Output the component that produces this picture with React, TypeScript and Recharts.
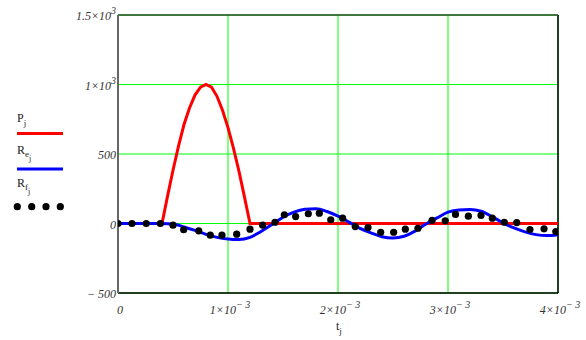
import React from 'react';
import {
  CartesianGrid,
  ComposedChart,
  Legend,
  Line,
  ReferenceLine,
  Scatter,
  XAxis,
  YAxis,
} from 'recharts';

// P_j : force pulse (time in s)
const pTimes = [0, 0.0004, 0.00045, 0.0005, 0.00055, 0.0006, 0.00065, 0.0007, 0.00075, 0.0008, 0.00085, 0.0009, 0.00095, 0.001, 0.00105, 0.0011, 0.00115, 0.0012, 0.004];
const pValues = [0, 0, 195, 383, 556, 712, 831, 924, 981, 1000, 981, 915, 815, 690, 540, 375, 190, 0, 0];

// Re_j : response, solid blue
const reTimes = [0, 0.0001, 0.0002, 0.0003, 0.0004, 0.0005, 0.0006, 0.0007, 0.0008, 0.0009, 0.001, 0.0011, 0.0012, 0.0013, 0.0014, 0.0015, 0.0016, 0.0017, 0.0018, 0.0019, 0.002, 0.0021, 0.0022, 0.0023, 0.0024, 0.0025, 0.0026, 0.0027, 0.0028, 0.0029, 0.003, 0.0031, 0.0032, 0.0033, 0.0034, 0.0035, 0.0036, 0.0037, 0.0038, 0.0039, 0.004];
const reValues = [0, 0, 0, 0, 0, -3, -25, -50, -78, -100, -112, -116, -100, -57, -8, 45, 82, 102, 106, 86, 53, 10, -35, -67, -95, -104, -92, -55, -3, 40, 82, 98, 100, 88, 50, 5, -32, -60, -80, -87, -80];

// Rf_j : response, black dots
const rfTimes = [0, 0.000127, 0.000257, 0.000385, 0.0005, 0.000597, 0.000734, 0.000839, 0.000945, 0.001079, 0.0012, 0.001315, 0.001427, 0.001512, 0.001615, 0.00173, 0.00183, 0.001934, 0.002042, 0.002157, 0.002273, 0.002388, 0.002506, 0.002612, 0.002727, 0.002855, 0.002975, 0.003068, 0.003185, 0.0033, 0.003403, 0.003512, 0.003625, 0.003745, 0.003873, 0.00398];
const rfValues = [0, 0, 0, 0, -12, -45, -53, -84, -84, -77, -41, -12, 9, 63, 50, 70, 74, 27, 38, -22, -29, -63, -63, -41, -34, 22, 19, 65, 53, 58, 38, 9, 7, -43, -38, -58];

const xTicks = [0, 0.001, 0.002, 0.003, 0.004];
const xTickLabels = [['0', ''], ['1×10', '− 3'], ['2×10', '− 3'], ['3×10', '− 3'], ['4×10', '− 3']];
const yTicks = [-500, 0, 500, 1000, 1500];
const yTickLabels = [['− 500', ''], ['0', ''], ['500', ''], ['1×10', '3'], ['1.5×10', '3']];

const pData = pTimes.map((t, i) => ({ t, v: pValues[i] }));
const reData = reTimes.map((t, i) => ({ t, v: reValues[i] }));
const rfData = rfTimes.map((t, i) => ({ t, v: rfValues[i] }));

const FONT = '"Liberation Serif", "Times New Roman", serif';
const INK = '#1a1a1a';

function XTick({ x, y, index }: any) {
  const [main, sup] = xTickLabels[index] ?? ['', ''];
  return (
    <text x={x + 2} y={y + 21} textAnchor="middle" fontFamily={FONT} fontStyle="italic" fontSize={12} fill="#333">
      <tspan>{main}</tspan>
      {sup && <tspan dy={-6} fontSize={10}>{sup}</tspan>}
    </text>
  );
}

function YTick({ x, y, index }: any) {
  const [main, sup] = yTickLabels[index] ?? ['', ''];
  return (
    <text x={x - 2} y={y + 5} textAnchor="end" fontFamily={FONT} fontStyle="italic" fontSize={12} fill="#333">
      <tspan>{main}</tspan>
      {sup && <tspan dy={-6} fontSize={10}>{sup}</tspan>}
    </text>
  );
}

function Dot(props: any) {
  return <circle cx={props.cx} cy={props.cy} r={3.6} fill="#000" />;
}

function LegendBox() {
  return (
    <svg width={80} height={120} style={{ display: 'block' }}>
      <text x={17} y={22} fontSize={12} fontFamily={FONT} fill={INK}>
        P<tspan dy={4} fontSize={9}>j</tspan>
      </text>
      <line x1={17} x2={63} y1={33.5} y2={33.5} stroke="#ff0000" strokeWidth={3} />
      <text x={17} y={53.5} fontSize={12} fontFamily={FONT} fill={INK}>
        R<tspan dy={3} fontSize={9}>e</tspan>
        <tspan dy={4} fontSize={8}>j</tspan>
      </text>
      <line x1={17} x2={63} y1={69} y2={69} stroke="#0000ff" strokeWidth={3} />
      <text x={17} y={87} fontSize={12} fontFamily={FONT} fill={INK}>
        R<tspan dy={3} fontSize={9}>f</tspan>
        <tspan dy={4} fontSize={8}>j</tspan>
      </text>
      {[17.3, 31.7, 46, 60.3].map((cx) => (
        <circle key={cx} cx={cx} cy={106.7} r={3.6} fill="#000" />
      ))}
    </svg>
  );
}

export default function App() {
  return (
    <div style={{ position: 'absolute', left: 0, top: 0, background: '#fff' }}>
      <ComposedChart width={586} height={340} margin={{ top: 15, right: 28, bottom: 0, left: 0 }}>
        <CartesianGrid stroke="#00ff00" strokeWidth={1} />
        <XAxis
          dataKey="t"
          type="number"
          domain={[0, 0.004]}
          ticks={xTicks}
          allowDataOverflow
          height={47}
          tickLine={false}
          tickSize={0}
          tickMargin={0}
          axisLine={{ stroke: '#000', strokeWidth: 1.5 }}
          tick={<XTick />}
          interval={0}
          label={{
            content: () => (
              <text x={336} y={330} fontFamily={FONT} fontSize={12} fill={INK}>
                t<tspan dy={4} fontSize={9}>j</tspan>
              </text>
            ),
          }}
        />
        <YAxis
          type="number"
          domain={[-500, 1500]}
          ticks={yTicks}
          allowDataOverflow
          width={118}
          tickLine={false}
          tickSize={0}
          tickMargin={0}
          axisLine={{ stroke: '#666', strokeWidth: 2 }}
          tick={<YTick />}
          interval={0}
        />
        <ReferenceLine x={0.004} stroke="#000" strokeWidth={1.5} />
        <ReferenceLine y={1500} stroke="#2a4a2a" strokeWidth={1.5} />
        <Legend
          content={<LegendBox />}
          layout="vertical"
          align="center"
          verticalAlign="middle"
          wrapperStyle={{ position: 'absolute', left: 0, top: 100, width: 80, height: 120 }}
        />
        <Line data={pData} dataKey="v" type="linear" stroke="#ff0000" strokeWidth={3} dot={false} isAnimationActive={false} />
        <Line data={reData} dataKey="v" type="monotone" stroke="#0000ff" strokeWidth={3} dot={false} isAnimationActive={false} />
        <Scatter data={rfData} dataKey="v" shape={<Dot />} isAnimationActive={false} />
      </ComposedChart>
    </div>
  );
}
